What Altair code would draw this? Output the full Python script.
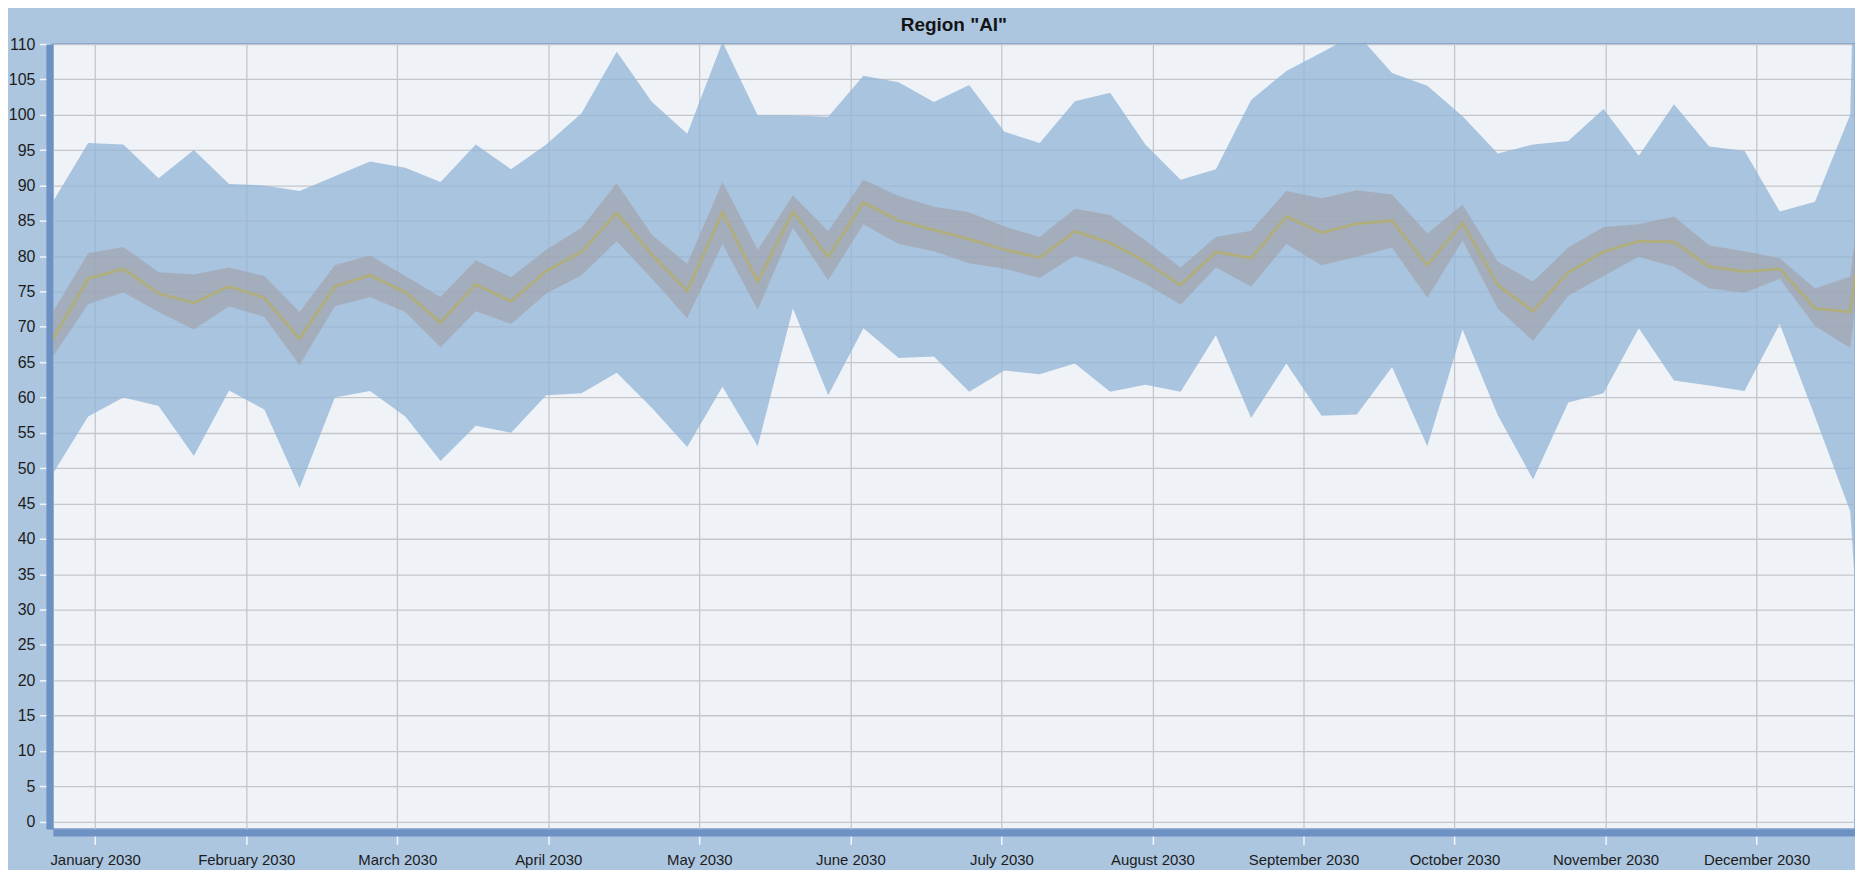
import altair as alt
import pandas as pd

# weekly points (day offsets from the first week), plus a final point just past the right edge
days = [7 * i for i in range(52)] + [358]

outer_hi = [87.7, 96.0, 95.8, 91.0, 95.0, 90.2, 90.0, 89.2, 91.3, 93.4,
            92.5, 90.5, 95.8, 92.3, 95.8, 100.2, 108.9, 101.8, 97.3, 110.3,
            99.9, 99.9, 99.7, 105.5, 104.6, 101.8, 104.2, 97.6, 96.0, 101.9,
            103.1, 95.8, 90.8, 92.3, 102.1, 106.2, 108.8, 111.5, 105.9, 104.1,
            99.8, 94.5, 95.8, 96.3, 100.8, 94.2, 101.5, 95.5, 94.9, 86.3,
            87.7, 100.0, 130.0]
inner_hi = [72.1, 80.4, 81.3, 77.7, 77.4, 78.4, 77.2, 72.1, 78.7, 80.1,
            77.2, 74.2, 79.4, 77.0, 80.9, 84.0, 90.3, 83.0, 78.9, 90.5,
            80.9, 88.6, 83.5, 90.8, 88.5, 87.0, 86.2, 84.2, 82.7, 86.7,
            85.8, 82.2, 78.4, 82.7, 83.6, 89.2, 88.2, 89.3, 88.7, 83.2,
            87.3, 79.2, 76.4, 81.2, 84.1, 84.5, 85.6, 81.5, 80.7, 79.7,
            75.4, 77.1, 82.5]
mid = [68.3, 76.8, 78.2, 74.7, 73.4, 75.7, 74.1, 68.3, 75.7, 77.3,
       74.9, 70.6, 76.0, 73.6, 77.9, 80.6, 86.1, 80.2, 75.1, 86.2,
       76.4, 86.3, 79.9, 87.6, 85.0, 83.7, 82.4, 80.9, 79.8, 83.5,
       81.9, 79.2, 75.9, 80.6, 79.7, 85.6, 83.3, 84.6, 85.0, 78.7,
       84.7, 75.9, 72.2, 77.7, 80.6, 82.1, 82.0, 78.5, 77.8, 78.2,
       72.6, 72.1, 77.5]
inner_lo = [65.8, 73.2, 74.9, 72.1, 69.6, 72.9, 71.4, 64.6, 72.9, 74.2,
            72.1, 67.1, 72.2, 70.4, 74.7, 77.3, 82.1, 76.8, 71.2, 81.7,
            72.4, 84.0, 76.6, 84.5, 81.7, 80.7, 79.0, 78.2, 76.9, 80.1,
            78.4, 76.1, 73.1, 78.4, 75.7, 81.7, 78.7, 79.9, 81.2, 74.1,
            82.2, 72.6, 68.0, 74.4, 77.2, 79.9, 78.5, 75.4, 74.8, 76.8,
            70.1, 67.0, 73.0]
outer_lo = [49.2, 57.3, 60.0, 58.8, 51.7, 61.0, 58.3, 47.2, 60.0, 60.9,
            57.3, 51.0, 56.0, 55.0, 60.3, 60.6, 63.5, 58.5, 53.0, 61.5,
            53.1, 72.6, 60.3, 69.8, 65.6, 65.8, 60.8, 63.8, 63.3, 64.8,
            60.8, 61.8, 60.8, 68.8, 57.1, 64.8, 57.4, 57.6, 64.3, 53.1,
            69.6, 57.5, 48.4, 59.3, 60.6, 69.8, 62.4, 61.7, 60.9, 70.4,
            57.3, 43.9, 33.0]

month_labels = ["January 2030", "February 2030", "March 2030", "April 2030",
                "May 2030", "June 2030", "July 2030", "August 2030",
                "September 2030", "October 2030", "November 2030", "December 2030"]
month_ticks = [8.4 + 30 * m for m in range(12)]
y_ticks = [float(v) for v in range(0, 111, 5)]

df = pd.DataFrame({"day": days, "outer_hi": outer_hi, "inner_hi": inner_hi,
                   "mid": mid, "inner_lo": inner_lo, "outer_lo": outer_lo})

FONT = "Liberation Sans"
label_expr = "[" + ",".join("'%s'" % s for s in month_labels) + "][round((datum.value - 8.4) / 30)]"

x_scale = alt.Scale(domain=[0, 357.95], nice=False, zero=False)
x_axis = alt.Axis(values=month_ticks, labelExpr=label_expr, title=None,
                  grid=True, gridColor="#c4c6c9", gridWidth=1.3,
                  domainColor="#6d91c2", domainWidth=7, offset=3.5,
                  tickColor="#f2f6fb", tickSize=12, tickWidth=1.5,
                  labelFont=FONT, labelFontSize=15, labelColor="#1c1c1c",
                  labelPadding=8, labelFlush=False, labelOverlap=False)
y_scale = alt.Scale(domain=[-1.05, 110], nice=False, zero=False)
y_axis = alt.Axis(values=y_ticks, tickCount=23, title=None, grid=True, gridColor="#c4c6c9",
                  gridWidth=1.3, domainColor="#6d91c2", domainWidth=7, offset=3.5,
                  tickColor="#f2f6fb", tickSize=10, tickWidth=1.5,
                  labelFont=FONT, labelFontSize=16, labelColor="#1c1c1c",
                  labelPadding=4.5, labelOverlap=False, labelFlush=False,
                  labelBound=False)

X = alt.X("day:Q", scale=x_scale, axis=x_axis)

base = alt.Chart(df)
outer = base.mark_area(color="#92b4d7", opacity=0.75, clip=True).encode(
    x=X,
    y=alt.Y("outer_lo:Q", scale=y_scale, axis=y_axis),
    y2="outer_hi:Q")
inner = base.mark_area(color="#a19fa3", opacity=0.6, clip=True).encode(
    x=X,
    y=alt.Y("inner_lo:Q", scale=y_scale, axis=y_axis),
    y2="inner_hi:Q")
line = base.mark_line(color="#b1ae78", strokeWidth=2.8, opacity=0.95, clip=True).encode(
    x=X,
    y=alt.Y("mid:Q", scale=y_scale, axis=y_axis))

chart = alt.layer(outer, inner, line).properties(
    width=1807, height=787,
    title=alt.TitleParams('Region "AI"', font=FONT, fontSize=19, fontWeight="bold",
                          color="#141414", anchor="middle", offset=1),
    autosize=alt.AutoSizeParams(type="none"),
    padding={"left": 45, "top": 35, "right": 0, "bottom": 40},
).configure(background="#adc6e0").configure_view(
    fill="#eff3f8", stroke="#7f9fc8", strokeWidth=1.5)

chart.save("out.html", embed_options={"renderer": "svg", "actions": False})
